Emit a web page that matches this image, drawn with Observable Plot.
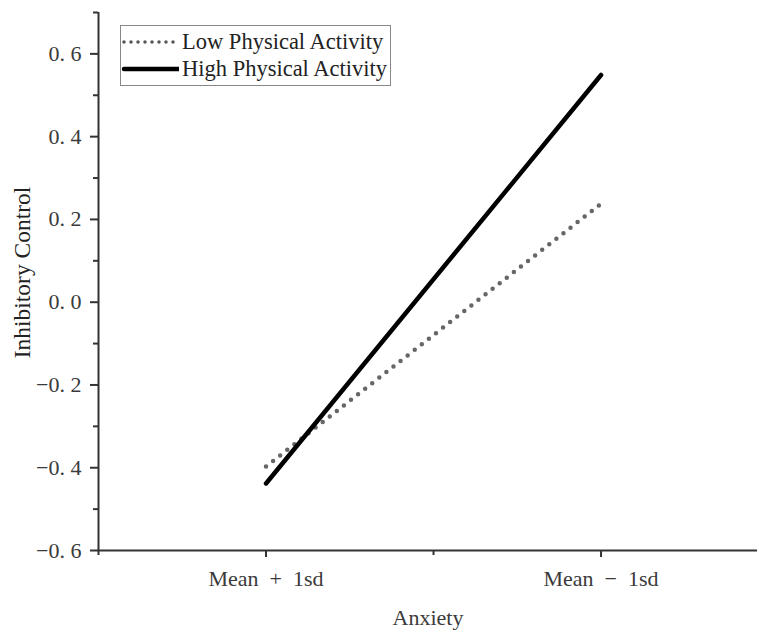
<!DOCTYPE html>
<html>
<head>
<meta charset="utf-8">
<script src="https://cdn.jsdelivr.net/npm/d3@7"></script>
<script src="https://cdn.jsdelivr.net/npm/@observablehq/plot@0.6"></script>
<style>
  body { margin: 0; background: #fff; }
  #wrap { position: relative; width: 759px; height: 632px; }
  #legend { position: absolute; left: 120px; top: 25px; width: 269px; height: 59px;
    border: 1px solid #888; background: #fff; font-family: "Liberation Serif", serif; font-size: 22.5px; color: #222; }
  #legend .row { position: absolute; left: 0; height: 26px; display: flex; align-items: center; white-space: nowrap; }
  #legend svg { margin-right: 3px; }
</style>
</head>
<body>
<div id="wrap"></div>
<script>
const categories = ["Mean\u00a0\u00a0+\u00a0\u00a01sd", "Mean\u00a0\u00a0\u2212\u00a0\u00a01sd"];
const categoryPos = [1, 2];
const seriesNames = ["Low Physical Activity", "High Physical Activity"];
const lowValues = [-0.397, 0.238];
const highValues = [-0.438, 0.549];
const yMajorTicks = [-0.6, -0.4, -0.2, 0.0, 0.2, 0.4, 0.6];
const yMinorTicks = [-0.5, -0.3, -0.1, 0.1, 0.3, 0.5, 0.7];
const xMinorTicks = [0.5, 1.5];
const xLabel = "Anxiety";
const yLabel = "Inhibitory Control";

const data = [];
seriesNames.forEach((s, i) => {
  const vals = i === 0 ? lowValues : highValues;
  categoryPos.forEach((x, j) => data.push({series: s, x, y: vals[j]}));
});

const fmtY = d => d.toFixed(1).replace(".", ". ").replace("-", "\u2212");
const fmtX = d => categories[categoryPos.indexOf(d)];

const chart = Plot.plot({
  width: 759,
  height: 632,
  marginTop: 12,
  marginBottom: 82,
  marginLeft: 98,
  marginRight: 2,
  style: {fontFamily: "'Liberation Serif', serif", fontSize: "22px", color: "#3a3a3a", background: "#fff"},
  x: {domain: [0.5, 2.467]},
  y: {domain: [-0.6, 0.7]},
  marks: [
    Plot.ruleY([-0.6], {stroke: "#333", strokeWidth: 2}),
    Plot.ruleX([0.5], {stroke: "#333", strokeWidth: 2}),
    Plot.axisY({ticks: yMajorTicks, tickFormat: fmtY, tickSize: 8, tickPadding: 9, strokeWidth: 2, stroke: "#333",
      fontSize: 22, label: null}),
    Plot.axisY({ticks: yMinorTicks, text: null, tickSize: 5, strokeWidth: 2, stroke: "#333", label: null}),
    Plot.axisX({ticks: categoryPos, tickFormat: fmtX, tickSize: 7, tickPadding: 13, strokeWidth: 2, stroke: "#333",
      fontSize: 22, label: xLabel, labelAnchor: "center", labelArrow: "none", labelOffset: 74}),
    Plot.axisX({ticks: xMinorTicks, text: null, tickSize: 5, strokeWidth: 2, stroke: "#333", label: null}),
    Plot.text([yLabel], {frameAnchor: "left", textAnchor: "middle", lineAnchor: "middle", rotate: -90,
      dx: -76, dy: -9, fontSize: 23.5, fill: "#222"}),
    Plot.line(data.filter(d => d.series === seriesNames[0]), {x: "x", y: "y", stroke: "#666", strokeWidth: 4.5,
      strokeDasharray: "0 9", strokeLinecap: "round"}),
    Plot.line(data.filter(d => d.series === seriesNames[1]), {x: "x", y: "y", stroke: "#000", strokeWidth: 4.5,
      strokeLinecap: "round"})
  ]
});

const wrap = document.getElementById("wrap");
wrap.appendChild(chart);

const legend = document.createElement("div");
legend.id = "legend";
const styles = [
  {stroke: "#555", dash: "0 7", width: 3.5, len: 50},
  {stroke: "#000", dash: null, width: 4.5, len: 55}
];
seriesNames.forEach((s, i) => {
  const row = document.createElement("div");
  row.className = "row";
  row.style.top = (3 + i * 27) + "px";
  const st = styles[i];
  row.innerHTML = `<svg width="58" height="12"><line x1="3" y1="6" x2="${3 + st.len}" y2="6" stroke="${st.stroke}" stroke-width="${st.width}" stroke-linecap="round" ${st.dash ? `stroke-dasharray="${st.dash}"` : ""}/></svg><span>${s}</span>`;
  legend.appendChild(row);
});
wrap.appendChild(legend);
</script>
</body>
</html>
